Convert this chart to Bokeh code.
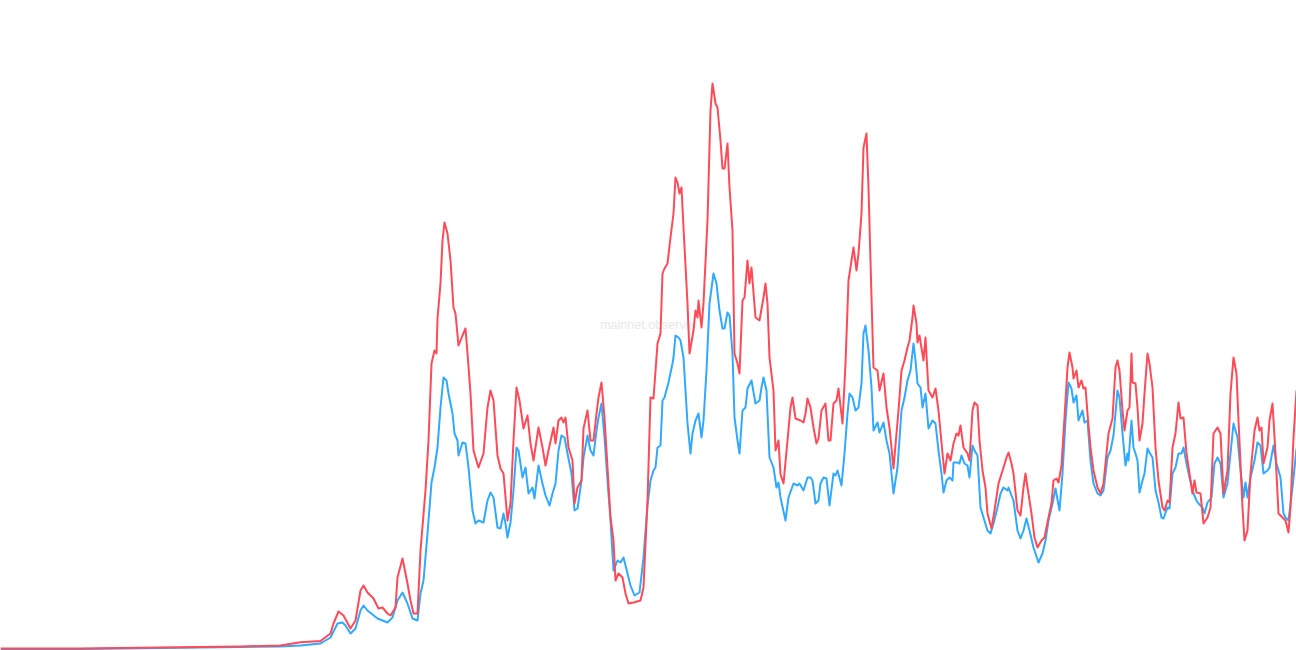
from bokeh.plotting import figure
from bokeh.models import Range1d, Label, ColumnDataSource
from bokeh.embed import file_html
from bokeh.resources import INLINE

# day index for each sample
red_day = [0, 40, 80, 120, 160, 200, 240, 280, 300, 320, 330, 333, 338, 343, 350, 355, 360, 363, 367, 373, 378, 382, 387, 390, 395, 397, 402, 407, 410, 413, 417, 420, 425, 428, 431, 434, 436, 437, 440, 442, 444, 447, 450, 453, 455, 458, 462, 465, 467, 470, 473, 478, 483, 487, 490, 493, 497, 500, 503, 507, 510, 513, 516, 519, 523, 527, 530, 533, 538, 542, 545, 548, 553, 555, 558, 561, 563, 565, 568, 572, 574, 577, 581, 583, 587, 590, 593, 596, 598, 601, 604, 607, 610, 613, 615, 618, 622, 625, 628, 633, 640, 643, 647, 650, 653, 657, 660, 662, 664, 667, 670, 673, 675, 677, 679, 681, 683, 687, 689, 693, 695, 697, 698, 701, 703, 707, 710, 712, 715, 717, 720, 722, 724, 727, 729, 732, 734, 737, 739, 742, 744, 747, 749, 751, 755, 759, 763, 765, 767, 769, 773, 775, 778, 780, 783, 787, 790, 792, 795, 800, 803, 805, 807, 810, 813, 816, 818, 821, 825, 828, 830, 833, 836, 838, 842, 845, 848, 851, 853, 856, 858, 861, 863, 866, 868, 871, 873, 877, 879, 883, 886, 889, 893, 896, 898, 901, 904, 907, 909, 912, 913, 916, 917, 919, 923, 925, 928, 932, 935, 938, 942, 944, 947, 950, 953, 956, 958, 960, 963, 965, 967, 969, 972, 974, 977, 979, 982, 985, 987, 991, 994, 998, 1003, 1006, 1008, 1011, 1013, 1017, 1020, 1023, 1025, 1027, 1031, 1034, 1037, 1041, 1044, 1048, 1051, 1053, 1056, 1058, 1061, 1064, 1067, 1069, 1072, 1073, 1076, 1078, 1081, 1083, 1085, 1087, 1090, 1093, 1097, 1100, 1103, 1106, 1108, 1112, 1115, 1117, 1119, 1122, 1124, 1127, 1129, 1131, 1132, 1135, 1137, 1139, 1142, 1144, 1147, 1149, 1152, 1155, 1158, 1162, 1164, 1167, 1169, 1172, 1175, 1178, 1180, 1183, 1186, 1189, 1192, 1194, 1196, 1200, 1203, 1207, 1210, 1213, 1217, 1220, 1223, 1227, 1230, 1233, 1236, 1238, 1242, 1244, 1247, 1250, 1254, 1257, 1259, 1261, 1263, 1267, 1269, 1272, 1275, 1278, 1283, 1285, 1288, 1290, 1293, 1296]
red_val = [2, 2, 2, 2.5, 3, 3.5, 4, 5, 8.3, 9.5, 17, 27, 39, 35, 22, 30, 60, 65, 58, 52, 42, 43, 37, 35, 43, 73, 92, 67, 50, 37, 37, 100, 160, 210, 287, 300, 297, 332, 367, 410, 428, 417, 390, 343, 337, 305, 315, 322, 297, 257, 200, 183, 197, 243, 260, 250, 195, 182, 177, 130, 147, 210, 263, 250, 222, 235, 207, 190, 223, 203, 185, 200, 223, 207, 230, 233, 228, 233, 203, 190, 147, 163, 170, 222, 240, 210, 210, 237, 253, 268, 233, 183, 133, 110, 70, 77, 73, 57, 47, 48, 50, 63, 150, 253, 252, 307, 317, 377, 382, 387, 413, 437, 473, 468, 457, 463, 423, 347, 297, 320, 340, 333, 350, 323, 347, 430, 540, 567, 547, 543, 510, 482, 482, 507, 463, 420, 297, 287, 277, 350, 353, 390, 367, 383, 333, 330, 353, 367, 347, 293, 260, 200, 210, 176, 167, 210, 243, 253, 232, 230, 228, 237, 252, 243, 223, 207, 212, 240, 247, 210, 210, 247, 250, 262, 227, 287, 370, 390, 403, 380, 397, 437, 503, 517, 463, 353, 283, 280, 260, 277, 243, 223, 182, 217, 240, 280, 290, 303, 310, 333, 345, 327, 308, 315, 290, 313, 260, 253, 262, 240, 197, 177, 197, 190, 207, 217, 215, 225, 203, 200, 197, 190, 240, 248, 245, 210, 180, 163, 137, 122, 140, 167, 183, 193, 198, 187, 177, 140, 135, 163, 177, 163, 137, 113, 103, 110, 113, 133, 147, 170, 172, 168, 185, 233, 283, 298, 283, 272, 280, 263, 270, 262, 263, 237, 203, 180, 163, 157, 167, 197, 217, 232, 283, 290, 280, 240, 220, 240, 243, 297, 268, 267, 243, 210, 227, 257, 297, 287, 263, 203, 170, 143, 140, 150, 148, 203, 217, 248, 232, 233, 197, 177, 157, 170, 158, 157, 127, 133, 143, 217, 223, 217, 157, 180, 257, 293, 277, 230, 143, 110, 120, 177, 220, 233, 220, 223, 187, 203, 230, 247, 197, 137, 132, 130, 118, 143, 213, 260]

blue_day = [0, 40, 80, 120, 160, 200, 240, 280, 300, 320, 330, 337, 342, 345, 350, 355, 360, 363, 367, 377, 387, 392, 397, 402, 407, 412, 417, 420, 423, 427, 431, 434, 437, 440, 443, 446, 448, 452, 454, 457, 458, 462, 465, 468, 472, 475, 478, 483, 487, 490, 493, 497, 500, 503, 505, 507, 510, 513, 516, 518, 522, 525, 528, 532, 534, 538, 542, 545, 549, 552, 555, 558, 561, 564, 567, 571, 574, 577, 581, 583, 587, 590, 593, 596, 598, 601, 604, 607, 610, 613, 617, 620, 623, 627, 630, 634, 639, 643, 647, 650, 653, 655, 657, 660, 662, 664, 668, 672, 673, 675, 678, 680, 683, 685, 687, 690, 692, 695, 698, 701, 703, 706, 709, 713, 716, 719, 722, 724, 727, 729, 732, 734, 737, 739, 742, 745, 747, 751, 755, 759, 761, 763, 766, 769, 773, 776, 778, 780, 785, 788, 793, 797, 799, 803, 807, 810, 812, 815, 818, 820, 823, 826, 829, 833, 835, 837, 841, 844, 847, 849, 852, 855, 858, 861, 863, 865, 868, 871, 873, 877, 879, 883, 886, 889, 893, 897, 901, 904, 907, 910, 913, 915, 917, 920, 922, 925, 928, 932, 935, 938, 941, 943, 946, 949, 952, 953, 957, 959, 961, 964, 967, 969, 972, 974, 977, 980, 983, 987, 990, 993, 997, 1000, 1003, 1007, 1008, 1011, 1013, 1017, 1020, 1023, 1026, 1029, 1033, 1035, 1038, 1042, 1045, 1048, 1052, 1055, 1059, 1062, 1065, 1068, 1071, 1073, 1076, 1078, 1082, 1084, 1087, 1090, 1093, 1097, 1100, 1103, 1107, 1110, 1113, 1117, 1119, 1122, 1125, 1127, 1128, 1131, 1133, 1135, 1137, 1139, 1142, 1144, 1147, 1149, 1152, 1155, 1158, 1161, 1163, 1167, 1169, 1172, 1175, 1178, 1181, 1183, 1186, 1189, 1193, 1196, 1198, 1202, 1204, 1207, 1211, 1214, 1217, 1220, 1223, 1227, 1230, 1233, 1237, 1240, 1243, 1245, 1247, 1250, 1254, 1257, 1260, 1263, 1267, 1269, 1273, 1276, 1280, 1283, 1285, 1288, 1292, 1296]
blue_val = [1, 1, 1.5, 2, 2.5, 3, 3.5, 4, 5, 7, 13, 27, 28, 25, 17, 22, 40, 45, 40, 32, 28, 33, 50, 58, 47, 32, 30, 57, 70, 117, 168, 183, 203, 243, 273, 270, 257, 237, 217, 210, 195, 208, 207, 183, 140, 127, 130, 128, 150, 158, 153, 123, 122, 137, 127, 113, 128, 160, 203, 200, 173, 183, 157, 163, 152, 185, 167, 155, 145, 157, 167, 200, 215, 213, 197, 177, 140, 142, 170, 193, 215, 200, 195, 220, 233, 247, 213, 170, 130, 80, 90, 88, 93, 77, 65, 55, 58, 93, 145, 170, 180, 183, 203, 205, 250, 253, 268, 287, 293, 315, 313, 310, 293, 260, 227, 197, 217, 230, 237, 213, 230, 280, 347, 377, 367, 340, 322, 322, 338, 335, 297, 233, 210, 197, 240, 243, 262, 270, 247, 250, 263, 273, 260, 193, 183, 163, 168, 153, 130, 153, 167, 165, 167, 160, 173, 173, 170, 147, 150, 167, 173, 172, 145, 177, 175, 180, 165, 197, 237, 257, 253, 240, 243, 267, 317, 325, 300, 263, 220, 228, 218, 228, 210, 197, 157, 183, 240, 253, 270, 280, 307, 290, 267, 263, 243, 257, 222, 230, 227, 200, 177, 158, 170, 173, 170, 188, 188, 187, 195, 187, 185, 173, 205, 200, 195, 143, 133, 120, 117, 127, 143, 157, 163, 160, 163, 155, 150, 120, 112, 120, 132, 120, 103, 97, 88, 97, 110, 130, 147, 162, 140, 177, 230, 268, 262, 248, 255, 230, 240, 228, 230, 190, 167, 157, 155, 160, 193, 200, 215, 260, 253, 217, 185, 197, 190, 230, 203, 197, 190, 158, 170, 177, 202, 198, 193, 160, 148, 133, 132, 143, 142, 177, 183, 197, 197, 203, 187, 173, 157, 150, 147, 143, 137, 148, 153, 187, 193, 187, 153, 167, 197, 227, 213, 180, 153, 168, 153, 173, 190, 208, 205, 177, 180, 183, 205, 187, 173, 137, 133, 130, 163, 202]

watermark = "mainnet.observer"

p = figure(width=1296, height=650, output_backend="svg", toolbar_location=None,
           x_range=Range1d(0, 1296), y_range=Range1d(0, 650),
           min_border=0, min_border_left=0, min_border_right=0,
           min_border_top=0, min_border_bottom=0)
p.xaxis.visible = False
p.yaxis.visible = False
p.grid.visible = False
p.outline_line_color = None
p.background_fill_color = "white"
p.border_fill_color = "white"

wm = Label(x=648, y=326, x_units="screen", y_units="screen", text=watermark,
           text_align="center", text_baseline="middle", text_font="Liberation Sans",
           text_font_size="12.5px", text_color="#e8e8e8", level="underlay")
p.add_layout(wm)

bsrc = ColumnDataSource(dict(x=blue_day, y=blue_val))
rsrc = ColumnDataSource(dict(x=red_day, y=red_val))
p.line("x", "y", source=bsrc, line_color="#30a9ff", line_width=2, line_join="round")
p.line("x", "y", source=rsrc, line_color="#ff4a58", line_width=2, line_join="round")

open("out.html", "w").write(file_html(p, INLINE))
